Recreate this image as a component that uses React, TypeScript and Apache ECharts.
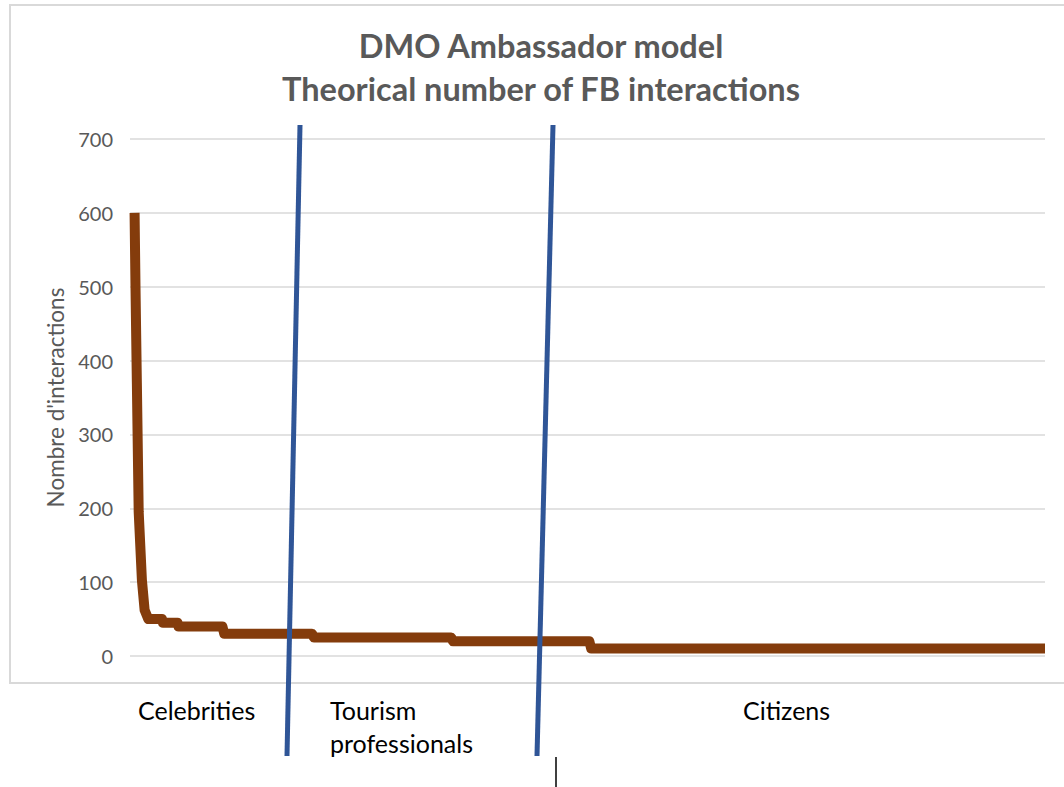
import React, { useEffect, useRef } from "react";
import * as echarts from "echarts";

// Ambassador rank (x) and theoretical number of FB interactions (y)
const rankPoints = [5, 6, 7.5, 9.5, 13, 16, 20, 35, 36, 52, 53, 101, 103, 199, 201, 351, 353, 502, 504, 1000];
const interactionValues = [600, 500, 370, 195, 103, 62, 50, 50, 45, 45, 40, 40, 30, 30, 25, 25, 20, 20, 10, 10];
const yTicks = [0, 100, 200, 300, 400, 500, 600, 700];
const titleLines = ["DMO Ambassador model", "Theorical number of FB interactions"];
const yAxisName = "Nombre d'interactions";
const groupLabels = ["Celebrities", "Tourism", "professionals", "Citizens"];

const FONT = "Lato, 'Open Sans', sans-serif";

export default function App() {
  const ref = useRef<HTMLDivElement>(null);
  useEffect(() => {
    if (!ref.current) return;
    const chart = echarts.init(ref.current, null, { renderer: "svg" });
    const labelStyle = { fontFamily: FONT, fontSize: 25, fill: "#000000", verticalAlign: "middle" };
    chart.setOption({
      animation: false,
      backgroundColor: "#ffffff",
      title: {
        text: titleLines.join("\n"),
        left: 536,
        top: 19,
        textAlign: "center",
        textStyle: {
          fontFamily: FONT,
          fontWeight: "bold",
          fontSize: 32.5,
          lineHeight: 43,
          color: "#595959",
        },
      },
      grid: { left: 130, right: 19, top: 139, bottom: 131 },
      xAxis: {
        type: "value",
        min: 0,
        max: 1000,
        show: false,
        splitLine: { show: false },
      },
      yAxis: {
        type: "value",
        min: yTicks[0],
        max: yTicks[yTicks.length - 1],
        interval: 100,
        name: yAxisName,
        nameLocation: "middle",
        nameGap: 62,
        nameTextStyle: { fontFamily: FONT, fontSize: 22.5, color: "#595959" },
        axisLine: { show: false },
        axisTick: { show: false },
        axisLabel: { fontFamily: FONT, fontSize: 20, color: "#595959", margin: 17 },
        splitLine: { lineStyle: { color: "#d9d9d9", width: 1.5 } },
      },
      series: [
        {
          type: "line",
          data: rankPoints.map((x, i) => [x, interactionValues[i]]),
          showSymbol: false,
          symbol: "none",
          lineStyle: { color: "#843c0c", width: 10, cap: "butt", join: "round" },
          z: 2,
        },
      ],
      graphic: [
        {
          type: "rect",
          shape: { x: 10, y: 5, width: 1070, height: 678 },
          style: { fill: "none", stroke: "#d9d9d9", lineWidth: 2 },
          z: 0,
          silent: true,
        },
        {
          type: "line",
          shape: { x1: 300, y1: 125, x2: 287, y2: 756 },
          style: { stroke: "#2f5597", lineWidth: 5 },
          z: 10,
        },
        {
          type: "line",
          shape: { x1: 553, y1: 125, x2: 537, y2: 756 },
          style: { stroke: "#2f5597", lineWidth: 5 },
          z: 10,
        },
        {
          type: "line",
          shape: { x1: 556, y1: 757, x2: 556, y2: 787 },
          style: { stroke: "#000000", lineWidth: 1.5 },
          z: 10,
        },
        { type: "text", x: 138, y: 710, style: { ...labelStyle, text: groupLabels[0] } },
        { type: "text", x: 330, y: 710, style: { ...labelStyle, text: groupLabels[1] } },
        { type: "text", x: 330, y: 743, style: { ...labelStyle, text: groupLabels[2] } },
        { type: "text", x: 743, y: 710, style: { ...labelStyle, text: groupLabels[3] } },
      ],
    });
    return () => chart.dispose();
  }, []);
  return (
    <div
      ref={ref}
      style={{ position: "fixed", left: 0, top: 0, width: 1064, height: 787 }}
    />
  );
}
